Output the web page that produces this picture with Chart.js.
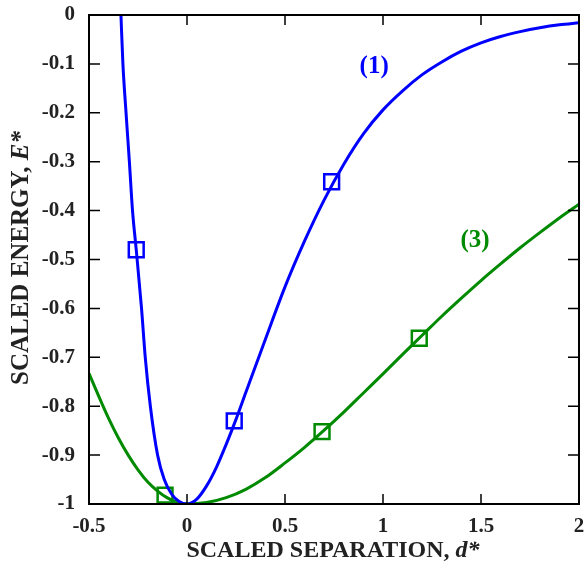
<!DOCTYPE html>
<html lang="en">

<head>
    <meta charset="UTF-8">
    <title>Scaled energy</title>
    <script src="https://cdn.jsdelivr.net/npm/chart.js"></script>
    <style>
        html, body { margin: 0; padding: 0; background: #fff; overflow: hidden; }
        #box { position: relative; width: 585px; height: 569px; }
        #grafico { display: block; }
    </style>
</head>

<body>
    <div id="box">
        <canvas id="grafico"></canvas>
    </div>
</body>

</html>
<script>
    // curve (1)
    var blueX = [-0.337, -0.327, -0.311, -0.294, -0.278, -0.259, -0.232, -0.213, -0.187, -0.15, -0.116, -0.078, -0.04, 0,
        0.05, 0.1, 0.15, 0.2, 0.25, 0.3, 0.4, 0.5, 0.6, 0.7, 0.8, 0.9, 1.0, 1.1, 1.2, 1.3, 1.4, 1.5, 1.6, 1.7, 1.8, 1.9, 2.0];
    var blueE = [0, -0.1, -0.2, -0.3, -0.4, -0.48, -0.6, -0.7, -0.8, -0.9, -0.95, -0.98, -0.995, -1,
        -0.99, -0.963, -0.925, -0.878, -0.827, -0.772, -0.663, -0.556, -0.462, -0.378, -0.305, -0.243, -0.194, -0.155, -0.122, -0.096, -0.074, -0.057, -0.044, -0.034, -0.026, -0.02, -0.016];

    // curve (3)
    var greenX = [-0.5, -0.45, -0.4, -0.35, -0.3, -0.25, -0.2, -0.15, -0.1, -0.05, 0,
        0.1, 0.2, 0.3, 0.4, 0.5, 0.6, 0.7, 0.8, 0.9, 1.0, 1.1, 1.2, 1.3, 1.4, 1.5, 1.6, 1.7, 1.8, 1.9, 2.0];
    var greenE = [-0.733, -0.78, -0.825, -0.865, -0.9, -0.93, -0.955, -0.9735, -0.9875, -0.997, -1,
        -0.997, -0.987, -0.97, -0.946, -0.916, -0.884, -0.849, -0.812, -0.773, -0.734, -0.694, -0.655, -0.616, -0.579, -0.543, -0.509, -0.476, -0.445, -0.415, -0.387];

    // square markers
    var blueMarkX = [-0.259, 0.241, 0.738];
    var blueMarkE = [-0.48, -0.83, -0.341];
    var greenMarkX = [-0.112, 0.689, 1.185];
    var greenMarkE = [-0.982, -0.852, -0.661];

    // curve labels
    var curveLabels = ['(1)', '(3)'];
    var curveLabelX = [0.955, 1.47];
    var curveLabelE = [-0.106, -0.462];

    var xTicks = [-0.5, 0, 0.5, 1, 1.5, 2];
    var yTicks = [0, -0.1, -0.2, -0.3, -0.4, -0.5, -0.6, -0.7, -0.8, -0.9, -1];

    var azul = '#0000ff';
    var verde = '#008a00';
    var fonte = '"Liberation Serif", "Times New Roman", serif';

    function pontos(xs, ys) {
        return xs.map(function (x, i) { return { x: x, y: ys[i] }; });
    }

    var molduraPlugin = {
        id: 'moldura',
        afterDraw: function (chart) {
            var ctx = chart.ctx;
            var a = chart.chartArea;
            var sx = chart.scales.x;
            var sy = chart.scales.y;
            ctx.save();
            ctx.strokeStyle = '#000';
            ctx.lineWidth = 2;
            ctx.strokeRect(a.left, a.top, a.right - a.left, a.bottom - a.top);

            // inward ticks
            ctx.lineWidth = 1.5;
            ctx.beginPath();
            xTicks.forEach(function (v) {
                if (v <= sx.min || v >= sx.max) return;
                var px = sx.getPixelForValue(v);
                ctx.moveTo(px, a.bottom); ctx.lineTo(px, a.bottom - 10);
                ctx.moveTo(px, a.top); ctx.lineTo(px, a.top + 10);
            });
            yTicks.forEach(function (v) {
                if (v <= sy.min || v >= sy.max) return;
                var py = sy.getPixelForValue(v);
                ctx.moveTo(a.left, py); ctx.lineTo(a.left + 11, py);
                ctx.moveTo(a.right, py); ctx.lineTo(a.right - 11, py);
            });
            ctx.stroke();

            // curve labels
            ctx.font = 'bold 25px ' + fonte;
            ctx.textAlign = 'center';
            ctx.textBaseline = 'middle';
            curveLabels.forEach(function (t, i) {
                ctx.fillStyle = i == 0 ? azul : verde;
                ctx.fillText(t, sx.getPixelForValue(curveLabelX[i]), sy.getPixelForValue(curveLabelE[i]));
            });

            // axis titles (italic symbol)
            function titulo(partes, cx, cy) {
                var total = 0;
                partes.forEach(function (p) { ctx.font = p[1]; total += ctx.measureText(p[0]).width; });
                var x = cx - total / 2;
                ctx.textAlign = 'left';
                ctx.textBaseline = 'alphabetic';
                ctx.fillStyle = '#222';
                partes.forEach(function (p) {
                    ctx.font = p[1];
                    ctx.fillText(p[0], x, cy);
                    x += ctx.measureText(p[0]).width;
                });
            }
            titulo([['SCALED SEPARATION, ', 'bold 24px ' + fonte], ['d*', 'italic bold 24px ' + fonte]], 333, 557);
            ctx.translate(28, 258);
            ctx.rotate(-Math.PI / 2);
            titulo([['SCALED ENERGY, ', 'bold 25px ' + fonte], ['E*', 'italic bold 25px ' + fonte]], 0, 0);
            ctx.restore();
        }
    };

    new Chart(document.getElementById('grafico').getContext('2d'), {
        type: 'line',
        data: {
            datasets: [{
                data: pontos(blueX, blueE),
                borderColor: azul,
                borderWidth: 3,
                pointRadius: 0,
                cubicInterpolationMode: 'monotone'
            }, {
                data: pontos(greenX, greenE),
                borderColor: verde,
                borderWidth: 3,
                pointRadius: 0,
                cubicInterpolationMode: 'monotone'
            }, {
                data: pontos(blueMarkX, blueMarkE),
                showLine: false,
                pointStyle: 'rect',
                pointRadius: 10.5,
                pointBorderWidth: 2.5,
                pointBorderColor: azul,
                pointBackgroundColor: 'rgba(0,0,0,0)'
            }, {
                data: pontos(greenMarkX, greenMarkE),
                showLine: false,
                pointStyle: 'rect',
                pointRadius: 10.5,
                pointBorderWidth: 2.5,
                pointBorderColor: verde,
                pointBackgroundColor: 'rgba(0,0,0,0)'
            }]
        },
        options: {
            responsive: true,
            maintainAspectRatio: false,
            animation: false,
            events: [],
            layout: { autoPadding: false, padding: { top: 15, right: 6, left: 0, bottom: 0 } },
            plugins: { legend: { display: false }, tooltip: { enabled: false } },
            scales: {
                x: {
                    type: 'linear',
                    min: -0.5,
                    max: 2,
                    afterBuildTicks: function (s) { s.ticks = xTicks.map(function (v) { return { value: v }; }); },
                    afterFit: function (s) { s.height = 65; s.paddingLeft = 0; s.paddingRight = 0; },
                    grid: { display: false },
                    border: { display: false },
                    ticks: {
                        padding: 2,
                        color: '#222',
                        font: { family: fonte, size: 21, weight: 'bold' },
                        callback: function (v) { return String(v); }
                    }
                },
                y: {
                    type: 'linear',
                    min: -1,
                    max: 0,
                    afterBuildTicks: function (s) { s.ticks = yTicks.map(function (v) { return { value: v }; }); },
                    afterFit: function (s) { s.width = 89; s.paddingTop = 0; s.paddingBottom = 0; },
                    grid: { display: false },
                    border: { display: false },
                    ticks: {
                        padding: 6,
                        color: '#222',
                        font: { family: fonte, size: 21, weight: 'bold' },
                        callback: function (v) { return String(Math.round(v * 10) / 10); }
                    }
                }
            }
        },
        plugins: [molduraPlugin]
    });
</script>
